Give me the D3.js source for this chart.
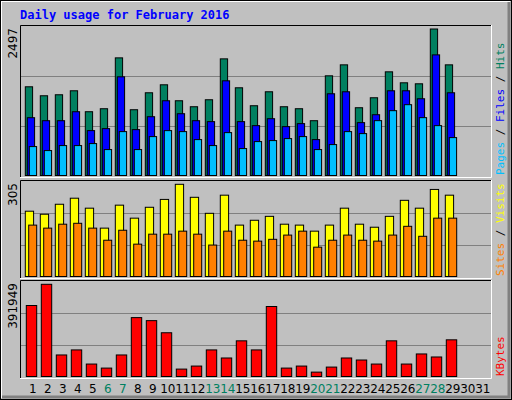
<!DOCTYPE html>
<html><head><meta charset="utf-8">
<script src="https://cdn.jsdelivr.net/npm/d3@7"></script>
<style>body{margin:0;background:#fff}</style>
</head><body>
<script>
const days = d3.range(1, 32);
const weekend = [6, 7, 13, 14, 20, 21, 27, 28];
const hits = [1512,1359,1376,1444,1087,1138,2005,1121,1410,1546,1274,1172,1291,1988,1495,1189,1427,1172,1138,934,1699,1886,1155,1325,1767,1580,1563,2497,1886];
const files = [985,934,934,1087,765,799,1682,782,1002,1274,1053,934,918,1614,918,850,968,833,884,612,1393,1427,901,1036,1444,1444,1308,2056,1410];
const pages = [493,425,510,510,544,442,748,442,663,765,748,612,510,731,459,578,595,629,663,442,527,748,714,935,1105,1207,986,850,646];
const visits = [216,206,239,259,226,160,236,193,229,255,305,262,209,269,170,186,199,173,170,150,170,226,173,163,199,252,226,288,269];
const sites = [170,160,173,176,160,120,153,107,140,140,150,140,104,150,120,117,123,137,150,97,120,137,120,117,137,166,133,193,193];
const kbytes = [301800,391949,91550,113000,52930,35760,91550,250340,237460,185960,31470,44350,113000,78680,151630,113000,297540,35760,44350,18600,40050,78680,70100,52930,151630,52930,95840,82970,155920];

const svg = d3.select('body').append('svg').attr('width', 512).attr('height', 400)
  .style('font-family', 'DejaVu Sans, sans-serif');

// outer frame
svg.append('rect').attr('width', 512).attr('height', 400).attr('fill', '#c0c0c0');
svg.append('path').attr('d', 'M1,398V1H510').attr('stroke', '#fff').attr('stroke-width', 2).attr('fill', 'none');
svg.append('path').attr('d', 'M2,397H509V2').attr('stroke', '#808080').attr('stroke-width', 3).attr('fill', 'none');
svg.append('rect').attr('x', 0.5).attr('y', 0.5).attr('width', 511).attr('height', 399).attr('fill', 'none').attr('stroke', '#000');

svg.append('text').attr('x', 20).attr('y', 19).text('Daily usage for February 2016')
  .attr('fill', '#0000ff').attr('font-family', 'DejaVu Sans Mono, monospace').attr('font-weight', 'bold').attr('font-size', 12);

const x = d3.scaleLinear().domain([1, 32]).range([25.3, 490.3]);

function panel(top, bottom, max, series, label) {
  svg.append('rect').attr('x', 20).attr('y', top).attr('width', 471).attr('height', bottom - top).attr('fill', '#c0c0c0');
  svg.append('path').attr('d', `M20.5,${bottom}V${top + 0.5}H491`).attr('stroke', '#000').attr('fill', 'none');
  svg.append('path').attr('d', `M20,${bottom + 0.5}H491.5V${top}`).attr('stroke', '#fff').attr('fill', 'none');
  const h = bottom - top;
  [1 / 3, 2 / 3].forEach(f => svg.append('line').attr('x1', 21).attr('x2', 491)
    .attr('y1', Math.round(bottom - h * f) + 0.5).attr('y2', Math.round(bottom - h * f) + 0.5)
    .attr('stroke', '#808080'));
  const base = bottom - 1.5;
  const y = d3.scaleLinear().domain([0, max]).range([base, series.top]);
  series.list.forEach(s => {
    svg.append('g').selectAll('rect').data(s.data).join('rect')
      .attr('x', (d, i) => x(i + 1) + s.off)
      .attr('y', d => y(d))
      .attr('width', s.w)
      .attr('height', d => base - y(d))
      .attr('fill', s.color).attr('stroke', '#000').attr('stroke-width', 1);
  });
  svg.append('text').attr('transform', `translate(17,${top + 3}) rotate(-90)`)
    .attr('text-anchor', 'end').attr('font-size', 12).text(String(max));
  let t = svg.append('text').attr('transform', `translate(504,${bottom - 2}) rotate(-90)`)
    .attr('font-family', 'DejaVu Sans Mono, monospace').attr('font-size', 11);
  label.forEach(l => t.append('tspan').attr('fill', l[1]).text(l[0]));
}

panel(25, 177, 2497, { top: 29, list: [
  { data: hits, color: '#008060', off: 0, w: 7.3 },
  { data: files, color: '#0000ff', off: 2, w: 7.3 },
  { data: pages, color: '#00c0ff', off: 4, w: 7.3 }
]}, [['Pages', '#00c0ff'], [' / ', '#000'], ['Files', '#0000ff'], [' / ', '#000'], ['Hits', '#008060']]);

panel(180, 278, 305, { top: 184.3, list: [
  { data: visits, color: '#ffff00', off: 0, w: 8.3 },
  { data: sites, color: '#ff8000', off: 3.4, w: 8 }
]}, [['Sites', '#ff8000'], [' / ', '#000'], ['Visits', '#ffff00']]);

panel(280, 378, 391949, { top: 284.3, list: [
  { data: kbytes, color: '#ff0000', off: 1, w: 10.4 }
]}, [['KBytes', '#ff0000']]);

svg.append('g').selectAll('text').data(days).join('text')
  .attr('x', d => x(d) + 7.5).attr('y', 393).attr('text-anchor', 'middle').attr('font-size', 12)
  .attr('fill', d => weekend.includes(d) ? '#008060' : '#000').text(d => d);
</script>
</body></html>
